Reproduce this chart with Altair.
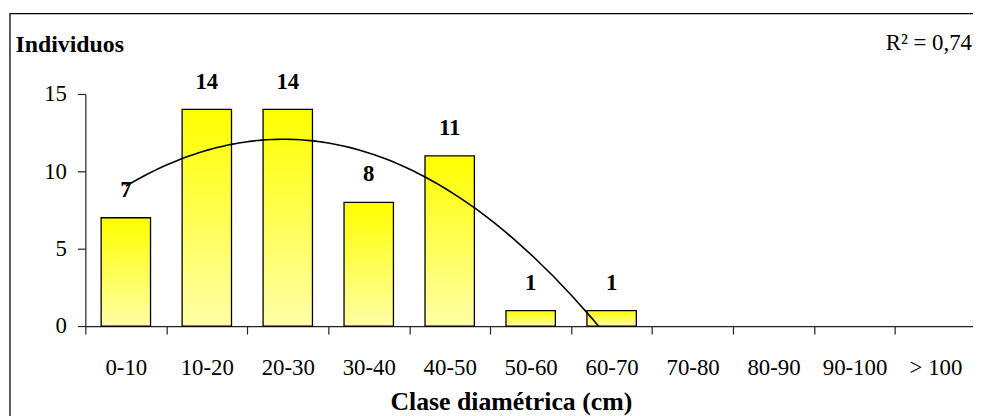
import altair as alt
import pandas as pd

# ---- data ----
categories = ["0-10", "10-20", "20-30", "30-40", "40-50", "50-60", "60-70",
              "70-80", "80-90", "90-100", "> 100"]
counts = [7, 14, 14, 8, 11, 1, 1]          # classes beyond 60-70 are empty
class_index = list(range(1, len(categories) + 1))
y_ticks = [0, 5, 10, 15]
r2_label = "R² = 0,74"
x_title = "Clase diamétrica (cm)"
y_title = "Individuos"

df = pd.DataFrame({
    "clase": categories,
    "idx": class_index,
    "n": counts + [None] * (len(categories) - len(counts)),
})

FONT = "Liberation Serif"
W, H = 895, 234
RANGE_X = 898

x_band_scale = alt.Scale(domain=categories, range=[0, RANGE_X],
                         paddingInner=0, paddingOuter=0)
y_scale = alt.Scale(domain=[0, 15])

x_axis = alt.Axis(
    title=x_title, labelAngle=0, tickBand="extent", tickSize=8, orient="bottom",
    labelFont=FONT, labelFontSize=23, labelColor="black",
    labelBaseline="alphabetic", labelPadding=41,
    titleFont=FONT, titleFontSize=26, titleFontWeight="bold", titleColor="black",
    titleX=429, titleY=84, titleBaseline="alphabetic",
    domainColor="#222", tickColor="#222", domainWidth=1.2, tickWidth=1.2,
    grid=False,
)
y_axis = alt.Axis(
    title=y_title, values=y_ticks, tickSize=8, labelPadding=11,
    labelFont=FONT, labelFontSize=23, labelColor="black",
    titleFont=FONT, titleFontSize=24, titleFontWeight="bold", titleColor="black",
    titleAngle=0, titleAlign="left", titleBaseline="alphabetic",
    titleX=-71, titleY=-43,
    domainColor="#222", tickColor="#222", domainWidth=1.2, tickWidth=1.2,
    grid=False,
)

base = alt.Chart(df)
valid = base.transform_filter("isValid(datum.n)")

gradient = alt.Gradient(
    gradient="linear", x1=0, x2=0, y1=0, y2=1,
    stops=[alt.GradientStop(color="#FFFF00", offset=0),
           alt.GradientStop(color="#FFFF20", offset=0.2),
           alt.GradientStop(color="#FFFFA8", offset=1)],
)

bars = valid.mark_bar(
    width=alt.RelativeBandSize(0.61), fill=gradient,
    stroke="black", strokeWidth=1.3,
).encode(
    x=alt.X("clase:N", sort=categories, scale=x_band_scale, axis=x_axis),
    y=alt.Y("n:Q", scale=y_scale, axis=y_axis),
)

labels = valid.mark_text(
    dy=-21, baseline="alphabetic", font=FONT, fontSize=23,
    fontWeight="bold", color="black",
).encode(
    x=alt.X("clase:N", sort=categories, scale=x_band_scale, axis=None),
    y=alt.Y("n:Q", scale=y_scale, axis=y_axis),
    text=alt.Text("n:Q"),
)

trend = valid.transform_regression(
    "idx", "n", method="poly", order=2, extent=[1, 7]
).mark_line(color="black", strokeWidth=1.6, clip=True).encode(
    x=alt.X("idx:Q", scale=alt.Scale(domain=[0.5, len(categories) + 0.5],
                                      range=[0, RANGE_X], nice=False, zero=False),
            axis=None),
    y=alt.Y("n:Q", scale=y_scale, axis=y_axis),
)

r2 = alt.Chart(pd.DataFrame({"t": [r2_label]})).mark_text(
    align="right", baseline="alphabetic", font=FONT, fontSize=23, color="black",
).encode(text="t:N", x=alt.value(894), y=alt.value(-44))

frame = alt.Chart(pd.DataFrame({"f": [0]})).mark_rect(
    fill="white", fillOpacity=0, stroke="black", strokeWidth=1.3,
).encode(x=alt.value(-76), x2=alt.value(1000), y=alt.value(-81), y2=alt.value(420))

chart = alt.layer(frame, bars, labels, trend, r2).resolve_scale(
    x="independent"
).properties(
    width=W, height=H,
    autosize=alt.AutoSizeParams(type="none"),
    padding={"left": 78, "top": 85, "right": 0, "bottom": 89},
).configure(background="white").configure_view(
    strokeWidth=0, stroke="transparent"
).configure_axis(grid=False)

chart.save("out.html", embed_options={"renderer": "svg", "actions": False})
